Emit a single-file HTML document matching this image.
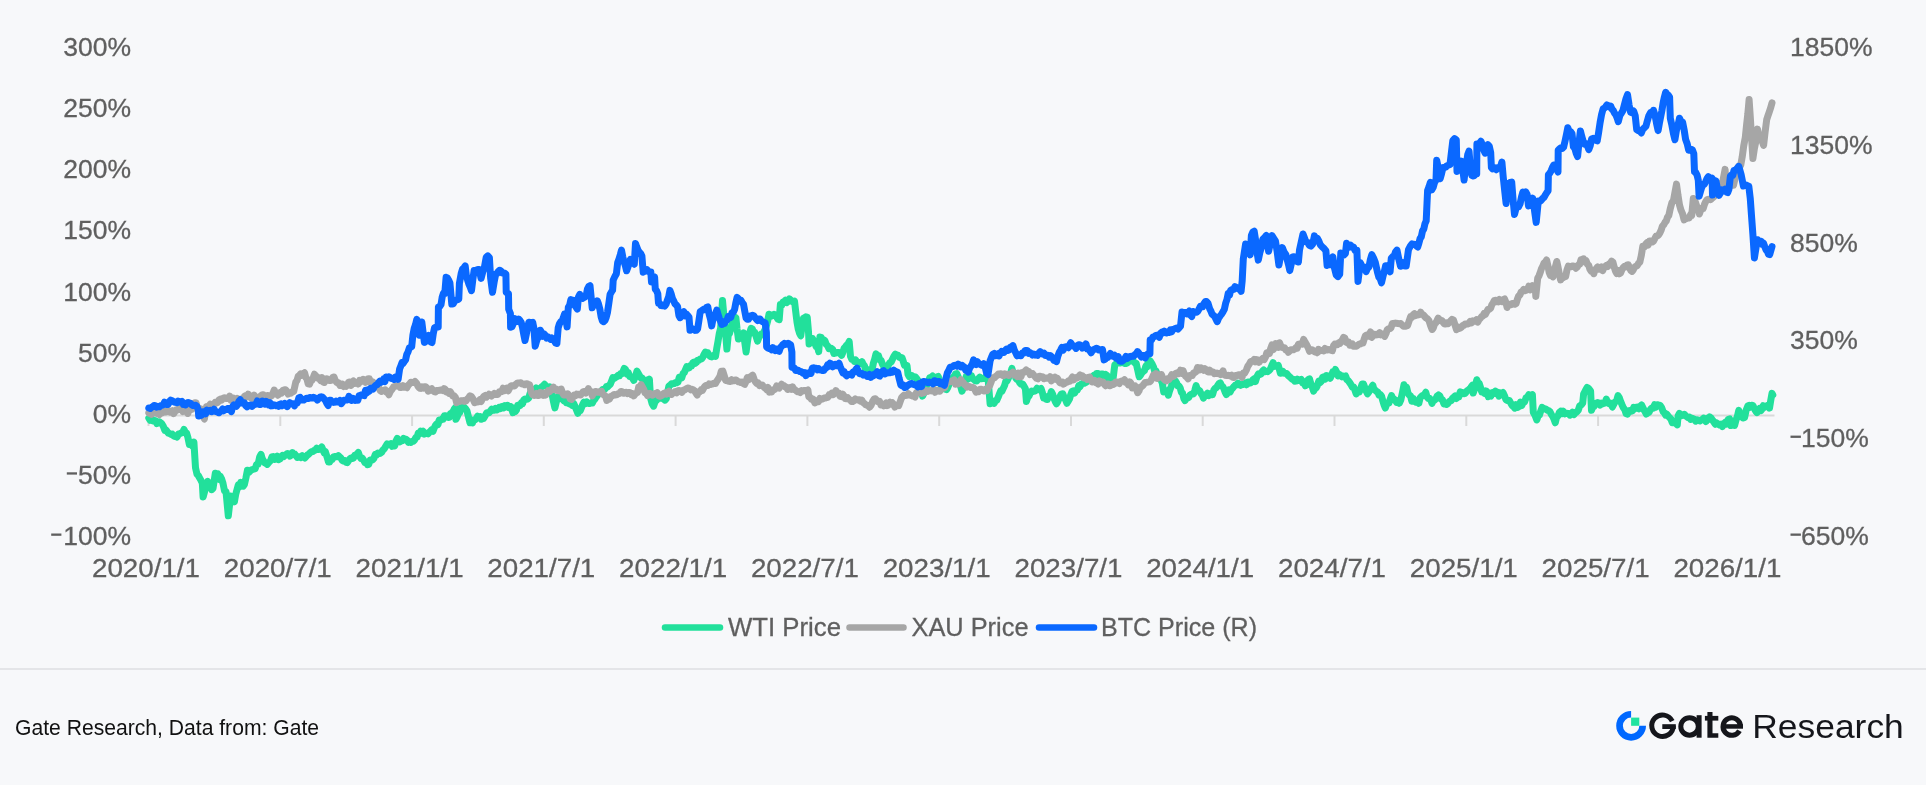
<!DOCTYPE html>
<html><head><meta charset="utf-8"><style>
html,body{margin:0;padding:0;}
body{width:1926px;height:785px;background:#f7f8fa;position:relative;overflow:hidden;}
</style></head><body>
<svg width="1926" height="785" viewBox="0 0 1926 785" style="position:absolute;left:0;top:0;will-change:transform"><path d="M148.5,415.5H1774.5M148.5,415.5V426M280.3,415.5V426M412.1,415.5V426M543.8,415.5V426M675.6,415.5V426M807.4,415.5V426M939.2,415.5V426M1071.0,415.5V426M1202.7,415.5V426M1334.5,415.5V426M1466.3,415.5V426M1598.1,415.5V426M1729.9,415.5V426" stroke="#d9d9d9" stroke-width="2" fill="none"/><g font-family="Liberation Sans, sans-serif" font-size="26.5" fill="#5f5f5f" stroke="#5f5f5f" stroke-width="0.3"><text x="131" y="55.9" text-anchor="end">300%</text><text x="131" y="117.1" text-anchor="end">250%</text><text x="131" y="178.2" text-anchor="end">200%</text><text x="131" y="239.4" text-anchor="end">150%</text><text x="131" y="300.5" text-anchor="end">100%</text><text x="131" y="361.7" text-anchor="end">50%</text><text x="131" y="422.8" text-anchor="end">0%</text><text x="131" y="484.0" text-anchor="end">50%</text><text x="131" y="545.1" text-anchor="end">100%</text><text x="1790" y="55.9">1850%</text><text x="1790" y="153.7">1350%</text><text x="1790" y="251.6">850%</text><text x="1790" y="349.4">350%</text><text x="1801" y="447.3">150%</text><text x="1801" y="545.1">650%</text><text x="146.0" y="577.4" text-anchor="middle" textLength="108" lengthAdjust="spacingAndGlyphs">2020/1/1</text><text x="277.8" y="577.4" text-anchor="middle" textLength="108" lengthAdjust="spacingAndGlyphs">2020/7/1</text><text x="409.6" y="577.4" text-anchor="middle" textLength="108" lengthAdjust="spacingAndGlyphs">2021/1/1</text><text x="541.3" y="577.4" text-anchor="middle" textLength="108" lengthAdjust="spacingAndGlyphs">2021/7/1</text><text x="673.1" y="577.4" text-anchor="middle" textLength="108" lengthAdjust="spacingAndGlyphs">2022/1/1</text><text x="804.9" y="577.4" text-anchor="middle" textLength="108" lengthAdjust="spacingAndGlyphs">2022/7/1</text><text x="936.7" y="577.4" text-anchor="middle" textLength="108" lengthAdjust="spacingAndGlyphs">2023/1/1</text><text x="1068.5" y="577.4" text-anchor="middle" textLength="108" lengthAdjust="spacingAndGlyphs">2023/7/1</text><text x="1200.2" y="577.4" text-anchor="middle" textLength="108" lengthAdjust="spacingAndGlyphs">2024/1/1</text><text x="1332.0" y="577.4" text-anchor="middle" textLength="108" lengthAdjust="spacingAndGlyphs">2024/7/1</text><text x="1463.8" y="577.4" text-anchor="middle" textLength="108" lengthAdjust="spacingAndGlyphs">2025/1/1</text><text x="1595.6" y="577.4" text-anchor="middle" textLength="108" lengthAdjust="spacingAndGlyphs">2025/7/1</text><text x="1727.4" y="577.4" text-anchor="middle" textLength="108" lengthAdjust="spacingAndGlyphs">2026/1/1</text></g><rect x="66.8" y="472.3" width="10.2" height="2.3" fill="#5f5f5f"/><rect x="51.2" y="533.5" width="10.2" height="2.3" fill="#5f5f5f"/><rect x="1790.5" y="435.6" width="10.4" height="2.3" fill="#5f5f5f"/><rect x="1790.5" y="533.5" width="10.4" height="2.3" fill="#5f5f5f"/><path d="M148.8,418.1L150.2,420.3L151.6,418.6L153.0,420.9L154.3,420.5L155.7,420.7L156.9,423.6L158.1,422.4L159.4,421.8L160.6,422.7L161.8,423.7L163.3,426.2L164.9,430.4L166.1,430.1L167.3,431.7L168.5,433.2L169.8,433.6L171.0,434.4L172.2,434.1L173.4,435.7L174.7,436.4L175.9,436.4L177.1,437.0L178.5,433.9L179.9,433.6L181.2,433.0L182.6,432.6L184.0,429.5L185.3,432.2L186.5,432.9L187.8,437.0L189.3,444.4L190.9,443.7L192.4,446.1L193.9,442.0L195.5,467.8L197.0,474.3L198.3,475.5L199.7,478.1L201.0,480.4L202.3,483.1L203.1,497.0L204.6,491.5L206.2,486.5L207.7,481.3L209.0,484.3L210.4,485.6L211.7,489.7L213.0,488.5L215.3,473.2L216.6,474.3L217.8,473.8L219.0,479.4L220.2,476.3L221.5,478.6L223.0,483.4L224.5,490.9L226.0,491.7L228.3,515.8L230.6,496.0L231.9,497.8L233.2,498.8L234.4,501.8L235.7,494.4L237.0,489.6L238.3,484.8L239.5,487.0L240.7,482.3L241.9,485.7L243.2,486.2L244.4,484.5L245.9,478.0L247.4,470.3L248.7,472.5L250.0,471.2L251.3,470.0L252.5,469.5L253.8,469.1L255.1,468.9L256.6,464.4L258.1,464.3L259.7,456.8L261.0,454.3L262.2,458.5L263.5,460.7L264.8,462.8L266.0,463.4L267.3,464.4L268.9,462.4L270.4,460.9L271.9,456.9L273.2,456.5L274.6,459.3L275.9,458.5L277.3,456.2L278.6,459.7L279.9,459.0L281.3,456.9L282.6,455.4L283.8,456.5L285.1,455.2L286.3,454.3L287.5,453.5L288.7,454.0L290.0,456.1L291.2,454.6L292.4,452.6L293.6,454.4L294.8,454.1L296.1,455.8L297.3,457.4L298.5,456.7L299.7,457.0L301.0,457.7L302.3,455.7L303.6,457.0L304.9,458.0L306.2,456.5L307.5,455.0L308.8,454.1L310.1,452.8L311.4,451.8L312.8,451.6L314.1,450.5L315.4,450.2L316.7,448.2L318.0,449.6L319.3,449.3L320.5,448.4L321.8,447.0L323.0,449.9L324.2,452.8L325.4,451.8L327.0,456.9L328.5,462.1L329.7,462.1L330.9,459.0L332.2,459.4L333.4,456.9L334.6,456.6L335.9,456.6L337.2,456.8L338.4,455.7L339.7,456.8L341.0,458.2L342.3,460.4L343.6,461.1L344.8,460.6L346.1,462.3L347.3,462.6L348.6,460.6L349.8,459.0L351.0,458.0L352.2,458.6L353.5,458.0L354.7,455.3L355.9,455.5L357.1,453.9L358.3,452.5L359.7,456.5L361.0,458.4L362.3,458.1L363.6,460.1L364.9,462.5L366.2,462.8L367.5,464.7L368.8,464.3L370.1,460.0L371.3,460.2L372.6,459.8L373.9,458.4L375.2,454.5L376.5,455.0L377.8,453.0L379.1,453.6L380.4,453.3L381.7,452.1L383.0,449.9L384.3,448.8L385.9,446.0L387.1,443.9L388.4,444.8L389.7,444.8L391.0,443.6L392.2,446.4L393.5,444.1L394.8,445.7L396.1,440.7L397.3,438.3L398.6,441.5L399.9,441.9L401.2,440.5L402.4,440.7L403.6,438.4L404.8,439.4L406.1,439.3L407.3,440.4L408.5,442.4L409.7,442.1L410.9,442.5L412.2,441.3L413.4,441.3L414.6,439.9L415.8,437.5L417.1,437.2L418.3,433.0L419.5,433.7L420.7,431.1L422.0,433.0L423.2,431.3L424.4,434.0L425.6,433.1L426.9,433.2L428.1,433.8L429.3,432.3L430.5,431.3L431.7,429.8L433.0,431.3L434.2,428.0L435.4,425.5L436.6,424.0L437.9,424.7L439.2,420.0L440.5,420.4L441.8,419.1L443.1,419.3L444.4,415.7L445.7,415.8L447.0,416.8L448.2,417.5L449.4,417.3L450.6,413.4L451.8,412.7L453.0,411.7L454.2,409.1L455.4,407.5L455.9,419.3L457.2,416.8L458.5,413.7L459.8,412.5L461.0,407.5L462.3,405.9L463.9,407.1L465.4,408.5L466.9,410.7L468.4,416.6L470.0,422.8L471.2,421.8L472.5,422.9L473.8,419.8L475.1,419.7L476.3,418.5L477.6,416.2L478.8,417.8L480.1,416.6L481.3,419.2L482.5,418.0L483.7,418.4L485.3,415.5L486.8,412.7L488.0,412.8L489.2,412.7L490.5,411.0L491.7,409.2L492.9,410.4L494.1,410.2L495.4,408.4L496.6,410.0L497.8,409.4L499.0,407.5L500.2,408.6L501.5,406.6L502.7,406.3L503.9,407.8L505.1,405.7L506.4,406.9L507.6,405.5L508.8,407.6L510.0,406.3L511.3,406.9L512.8,412.7L514.0,411.7L515.2,411.8L516.5,410.0L517.7,405.2L518.9,405.9L520.1,405.6L521.3,403.0L522.6,403.6L523.8,399.8L525.0,399.0L526.2,399.4L527.5,399.1L528.7,398.1L529.9,393.9L531.1,390.7L532.4,392.0L533.7,389.5L535.0,389.8L536.2,387.9L537.6,389.7L539.0,389.4L540.4,388.4L541.8,386.8L543.2,385.7L544.5,384.3L545.8,385.7L547.0,386.4L548.3,387.3L549.5,386.9L550.8,390.1L552.2,394.8L553.5,401.8L554.9,407.9L556.3,402.0L557.7,396.9L559.1,396.9L560.3,397.1L561.5,398.5L562.7,399.4L563.9,401.0L565.1,400.6L566.3,402.7L567.6,402.9L568.8,403.7L570.0,401.2L571.2,404.7L572.4,405.5L573.6,403.3L575.0,406.2L576.4,409.7L577.8,413.3L579.0,411.0L580.3,410.8L581.5,407.8L582.8,404.2L584.0,402.1L585.4,403.5L586.8,402.0L588.2,403.2L589.5,403.6L590.9,403.0L592.3,403.1L593.6,400.5L594.9,399.1L596.2,397.0L597.5,395.5L598.8,393.0L600.1,392.7L601.4,391.1L602.7,389.4L603.9,389.6L605.2,388.9L606.4,386.6L607.7,386.9L608.9,385.4L610.3,384.3L611.6,380.9L612.9,377.6L614.3,378.3L615.6,377.4L616.9,376.7L618.3,375.2L619.5,375.7L620.7,373.5L621.9,373.7L623.1,371.4L624.3,368.4L625.5,369.4L626.9,374.1L628.3,372.6L629.7,376.5L631.1,376.8L632.5,378.2L633.8,380.3L635.4,376.5L637.0,371.0L638.3,373.5L639.6,375.8L640.9,378.1L642.1,377.9L643.4,380.8L644.6,382.6L645.8,384.2L647.0,380.2L648.2,381.2L649.4,379.2L650.5,397.8L652.0,403.4L653.6,406.2L655.0,401.9L656.3,400.6L657.7,398.7L658.9,397.7L660.1,398.2L661.4,395.7L662.6,397.4L663.8,399.3L665.0,400.2L666.3,398.7L667.6,392.2L668.9,386.1L670.2,385.2L671.5,383.7L672.8,383.7L674.1,383.5L675.4,382.6L676.7,382.8L678.0,382.0L679.3,377.2L680.6,376.9L681.8,377.7L683.1,373.5L684.3,372.5L685.6,369.5L686.8,366.6L688.0,368.3L689.2,367.8L690.4,365.6L691.6,365.9L692.8,362.7L694.0,362.0L695.2,363.4L696.4,362.4L697.6,360.3L698.9,360.2L700.2,359.0L701.5,358.9L702.7,357.5L704.0,354.4L705.3,352.1L706.6,352.6L707.8,352.8L709.1,355.3L710.4,356.6L711.7,356.9L712.9,356.0L714.2,355.0L715.5,356.4L716.8,348.1L718.0,341.4L719.3,333.4L720.6,328.4L722.5,300.5L723.8,314.8L725.4,330.6L726.9,349.1L728.2,335.3L729.5,333.5L730.8,328.8L732.0,324.7L733.3,321.7L734.6,318.8L735.9,317.8L737.1,329.1L738.4,339.0L739.7,338.1L741.0,337.1L742.2,335.0L743.5,332.8L744.8,342.6L746.1,352.1L747.3,342.7L748.6,334.4L749.9,332.1L751.1,328.3L752.4,329.0L753.7,333.2L755.0,332.7L756.2,336.7L757.5,341.1L758.8,337.8L760.1,335.6L761.3,333.9L762.6,333.9L763.9,331.9L765.2,329.3L766.4,325.7L767.7,320.8L769.0,314.2L770.3,314.7L771.5,316.1L772.8,315.3L774.1,314.3L775.4,315.0L776.6,317.2L777.9,319.2L779.2,319.6L780.4,304.4L781.7,305.4L783.0,301.9L784.3,301.7L785.5,300.1L786.8,302.6L788.1,301.6L789.4,298.9L790.6,300.0L791.9,301.1L793.2,302.3L794.5,301.1L795.7,311.5L797.0,322.1L798.3,329.3L799.6,333.4L800.8,335.8L802.1,325.5L803.4,318.3L804.6,317.8L805.9,316.8L807.2,317.1L808.5,331.9L809.1,344.1L810.7,341.1L812.3,338.3L813.6,340.5L814.8,342.8L816.1,346.6L817.4,346.2L818.7,351.7L819.9,337.1L821.2,337.4L822.5,339.7L823.8,339.9L825.0,340.8L826.3,344.5L827.6,345.7L828.9,348.7L830.1,348.3L831.4,348.3L832.7,349.4L833.9,353.5L835.2,353.2L836.5,352.7L837.8,352.4L839.0,352.4L840.3,353.8L841.6,355.4L842.9,352.3L844.1,348.3L845.4,347.0L846.7,345.1L848.0,344.0L849.2,341.5L850.5,356.4L851.8,359.3L853.1,359.7L854.3,361.2L855.6,359.9L856.9,362.4L858.2,362.8L859.4,362.7L860.7,363.4L862.0,361.7L863.2,364.3L864.5,365.8L865.8,370.9L867.1,370.2L868.3,369.9L869.6,372.0L870.9,370.7L872.2,369.1L873.4,363.0L874.7,359.1L876.0,353.9L877.3,357.4L878.5,355.7L879.8,359.9L881.1,360.5L882.4,364.2L883.6,365.9L884.9,370.2L886.2,368.4L887.5,366.8L888.7,364.5L890.0,362.6L891.3,361.9L892.6,359.0L894.0,356.1L895.3,354.1L896.6,355.0L898.0,355.2L899.4,357.5L900.8,357.5L902.0,357.7L903.3,361.5L904.5,365.4L905.8,365.2L907.0,365.4L908.0,374.3L909.2,376.5L910.5,375.5L911.7,375.5L912.9,377.0L914.1,376.8L915.3,377.0L916.6,378.4L917.8,380.2L919.0,383.4L920.3,386.0L921.5,389.0L922.6,396.1L923.8,393.5L925.0,390.6L926.2,387.0L927.4,384.2L928.6,381.6L929.8,377.6L931.2,377.3L932.6,376.0L934.0,377.3L935.4,377.3L936.8,377.2L938.2,376.5L939.5,380.2L940.9,385.4L942.3,385.8L943.7,386.8L945.1,389.0L946.5,389.7L947.7,387.7L949.0,384.4L950.2,381.6L951.4,380.2L952.7,378.0L954.1,376.3L955.5,373.9L956.8,373.6L958.1,376.6L959.4,382.9L960.7,386.6L962.0,391.2L963.4,387.8L964.8,383.3L966.2,376.5L967.5,377.4L968.8,378.8L970.1,377.6L971.4,375.7L972.7,378.4L974.0,379.6L975.3,380.9L976.6,381.1L978.1,379.1L979.7,377.1L981.1,378.8L982.5,378.4L983.8,378.4L985.2,377.3L986.6,379.0L988.0,378.0L990.1,403.7L991.5,400.7L992.8,402.9L994.2,403.4L995.5,400.6L996.8,400.2L998.1,397.4L999.4,394.0L1000.7,390.8L1002.0,391.2L1003.3,388.2L1004.6,385.5L1005.8,381.3L1007.0,381.0L1008.2,378.5L1009.5,375.1L1010.7,372.6L1011.9,368.4L1013.2,372.9L1014.5,373.8L1015.8,378.1L1017.1,379.5L1018.5,380.3L1019.8,382.8L1021.2,384.3L1022.6,384.0L1024.0,386.2L1025.4,388.7L1026.4,401.5L1027.7,397.5L1029.0,396.0L1030.3,393.1L1031.6,391.0L1032.9,391.5L1034.3,391.2L1035.6,390.6L1037.0,388.3L1038.3,389.7L1039.6,389.3L1041.0,388.5L1042.3,392.3L1043.6,397.9L1044.8,397.7L1046.1,399.3L1047.4,399.5L1048.7,396.0L1050.0,396.0L1051.3,391.5L1052.6,394.0L1053.9,398.3L1055.2,401.5L1056.5,403.8L1057.8,401.6L1059.0,398.7L1060.3,395.9L1061.5,393.9L1062.8,393.8L1064.1,397.2L1065.5,399.8L1066.9,403.3L1068.2,401.1L1069.5,399.0L1070.8,394.6L1072.1,391.3L1073.4,390.9L1074.7,393.1L1076.1,390.2L1077.4,390.0L1078.7,385.7L1080.0,386.7L1081.4,384.1L1082.8,383.3L1084.2,383.3L1085.4,382.7L1086.6,382.0L1087.8,381.1L1089.1,379.8L1090.3,377.5L1091.5,379.8L1092.7,376.8L1094.0,375.2L1095.2,375.5L1096.4,373.4L1097.7,373.5L1099.0,373.8L1100.3,376.4L1101.6,374.1L1103.0,374.0L1104.3,376.0L1105.6,374.4L1106.9,375.5L1108.1,378.4L1109.4,377.6L1110.7,378.3L1112.0,379.4L1113.2,377.5L1114.8,364.9L1116.1,363.7L1117.4,362.5L1118.8,362.8L1120.1,363.0L1121.4,362.4L1122.8,361.5L1124.1,363.1L1125.5,363.6L1126.8,363.2L1128.1,362.2L1129.5,360.6L1130.8,360.4L1132.1,359.9L1133.5,361.5L1134.8,362.9L1136.2,363.4L1137.7,370.0L1139.2,376.8L1140.5,375.1L1141.8,373.0L1143.2,371.4L1144.5,370.6L1145.8,366.1L1147.1,366.7L1148.4,360.1L1149.7,360.5L1150.9,362.0L1152.2,364.1L1153.5,366.9L1154.8,371.8L1156.0,370.9L1157.6,375.0L1159.1,376.2L1160.6,378.9L1162.2,382.8L1163.7,391.9L1165.2,391.2L1166.7,390.9L1168.3,395.2L1169.8,390.1L1171.3,386.3L1172.9,381.9L1174.1,381.3L1175.3,380.8L1176.5,382.6L1177.8,385.9L1179.0,385.9L1180.2,388.0L1181.4,392.3L1182.6,393.3L1183.9,398.6L1185.1,400.6L1186.3,398.0L1187.5,398.2L1188.8,397.3L1190.0,395.1L1191.2,394.2L1192.4,394.1L1193.7,393.8L1194.9,390.0L1196.1,385.6L1197.3,389.3L1198.5,389.9L1199.8,391.0L1201.0,393.7L1202.2,394.8L1203.4,398.2L1204.8,395.2L1206.1,395.0L1207.4,393.2L1208.7,395.7L1210.0,393.9L1211.3,394.6L1212.6,394.7L1213.9,389.9L1215.2,388.3L1216.4,387.8L1217.7,385.6L1219.0,383.5L1220.3,382.8L1221.5,385.7L1222.7,386.4L1223.9,388.8L1225.2,392.3L1226.4,394.5L1227.7,393.0L1229.0,390.0L1230.3,391.8L1231.6,389.1L1232.9,387.9L1234.2,386.2L1235.6,384.9L1236.8,384.8L1238.0,383.2L1239.3,384.1L1240.5,385.3L1241.8,384.4L1243.0,384.4L1244.2,383.9L1245.5,382.9L1246.7,384.7L1248.0,381.9L1249.2,382.1L1250.5,382.9L1251.7,382.0L1252.9,379.7L1254.2,378.7L1255.4,381.6L1257.0,376.4L1258.5,373.8L1259.8,374.5L1261.1,374.0L1262.4,371.3L1263.7,370.0L1265.0,371.7L1266.3,371.3L1267.7,371.7L1269.0,370.6L1270.4,369.1L1271.8,365.5L1273.1,362.6L1274.4,366.4L1275.7,366.2L1277.0,366.0L1278.3,365.3L1280.4,373.3L1281.6,371.7L1282.9,371.3L1284.1,373.2L1285.4,373.3L1286.6,373.5L1288.2,375.5L1289.7,376.8L1291.0,378.1L1292.3,379.4L1293.5,379.3L1294.8,381.2L1296.1,381.1L1297.3,379.2L1298.6,380.5L1299.9,380.0L1301.2,379.3L1302.5,382.9L1303.9,381.7L1305.3,385.8L1306.7,385.0L1308.1,379.6L1309.5,378.9L1310.8,383.5L1312.2,386.6L1313.6,391.1L1314.9,388.8L1316.2,387.8L1317.5,385.3L1318.8,381.0L1320.1,382.5L1321.4,381.2L1322.7,377.2L1324.0,376.7L1325.2,379.1L1326.5,375.6L1327.7,376.1L1329.0,376.5L1330.2,378.2L1331.5,375.5L1332.8,371.8L1334.1,372.6L1335.4,369.5L1336.7,372.0L1338.0,375.9L1339.3,374.4L1340.6,375.3L1341.9,376.8L1343.1,376.0L1344.4,376.5L1345.6,376.0L1346.8,379.5L1348.2,380.7L1349.6,382.5L1351.0,384.7L1352.3,387.1L1353.6,386.9L1354.9,390.1L1356.2,394.0L1357.7,391.6L1359.3,392.0L1360.7,388.3L1362.1,384.0L1363.5,383.9L1364.8,387.4L1366.2,391.1L1367.6,393.8L1368.9,392.0L1370.2,389.4L1371.5,387.2L1372.8,385.3L1374.0,389.5L1375.3,390.1L1376.5,391.5L1377.8,392.2L1379.0,395.0L1380.3,394.6L1381.5,396.0L1382.8,400.7L1384.0,404.7L1385.3,408.1L1386.5,404.7L1387.8,403.6L1389.0,402.9L1390.2,399.1L1391.5,395.6L1392.7,398.8L1394.0,399.0L1395.2,400.1L1396.5,402.4L1397.7,400.9L1399.3,403.2L1400.8,400.0L1402.4,392.7L1404.0,384.8L1405.3,387.2L1406.6,387.3L1407.9,392.9L1409.1,394.8L1410.5,396.0L1411.9,401.3L1413.3,398.5L1414.7,401.3L1416.1,402.3L1417.5,401.9L1418.8,403.3L1420.2,397.6L1421.6,396.2L1423.0,395.3L1424.4,394.6L1425.8,392.3L1427.0,396.9L1428.3,398.4L1429.5,398.3L1430.7,399.7L1432.0,403.4L1433.3,400.4L1434.6,400.2L1435.9,398.8L1437.2,395.9L1438.5,394.9L1439.9,396.0L1441.2,399.2L1442.5,399.9L1443.9,403.9L1445.2,402.9L1446.5,404.4L1447.7,403.7L1449.0,401.9L1450.2,400.8L1451.4,400.5L1452.6,398.1L1453.8,397.1L1455.1,396.0L1456.4,398.5L1457.6,396.8L1458.9,397.0L1460.2,391.9L1461.5,393.1L1462.7,392.6L1464.0,393.7L1465.3,393.3L1467.1,390.7L1468.8,389.7L1470.6,387.8L1472.4,385.2L1473.2,393.1L1475.0,388.0L1476.8,379.7L1478.0,382.8L1479.2,383.4L1480.5,387.4L1481.7,391.9L1482.9,391.4L1484.3,393.2L1485.6,390.8L1486.9,391.6L1488.2,396.6L1489.6,395.3L1490.9,396.0L1492.4,392.4L1493.8,392.6L1495.3,391.1L1496.5,393.7L1497.8,392.4L1499.0,396.1L1500.2,392.8L1501.5,393.6L1503.0,392.5L1504.4,395.4L1505.9,399.6L1507.7,400.6L1509.4,400.5L1510.8,403.3L1512.1,405.5L1513.4,406.4L1514.7,408.1L1516.1,404.7L1517.5,407.4L1519.0,406.5L1520.4,402.2L1521.8,405.5L1523.2,402.6L1524.6,402.0L1526.0,397.8L1527.4,397.3L1528.8,394.7L1530.6,396.4L1532.4,394.7L1533.3,412.3L1535.0,415.3L1536.8,420.0L1538.1,416.0L1539.4,415.0L1540.8,410.9L1542.1,407.4L1543.4,408.2L1544.7,408.7L1546.1,409.3L1547.4,410.3L1548.7,410.6L1550.0,411.7L1551.4,414.6L1552.7,416.2L1554.0,419.1L1555.3,422.8L1556.6,417.2L1558.0,415.9L1559.3,412.4L1560.6,411.3L1561.9,413.6L1563.3,411.2L1564.6,413.8L1565.9,413.0L1567.2,413.4L1568.6,413.4L1569.9,415.1L1571.2,414.1L1572.5,412.1L1573.9,414.7L1575.3,412.8L1576.8,411.9L1578.3,410.2L1579.7,405.9L1581.2,404.9L1582.7,403.1L1583.6,394.1L1585.3,390.7L1587.1,387.5L1588.9,388.7L1590.6,391.1L1591.5,410.3L1592.7,407.1L1594.0,406.6L1595.2,404.5L1596.5,403.0L1597.7,402.6L1598.9,403.3L1600.2,405.0L1601.4,403.2L1602.6,403.8L1603.9,403.2L1605.1,403.0L1606.3,399.1L1607.5,402.2L1608.7,403.5L1609.9,402.8L1611.1,404.4L1612.4,407.0L1613.6,404.7L1615.0,402.0L1616.5,401.1L1618.0,395.6L1619.3,397.6L1620.6,401.3L1622.0,404.7L1623.3,407.6L1624.7,409.5L1626.1,413.7L1627.5,414.1L1628.7,410.7L1630.0,410.6L1631.2,411.3L1632.5,410.8L1633.7,407.3L1635.0,408.7L1636.3,407.2L1637.6,407.1L1638.9,408.7L1640.3,406.7L1641.6,405.0L1643.3,408.6L1644.9,411.4L1646.3,414.0L1647.7,412.9L1649.1,412.1L1650.5,409.3L1651.8,408.0L1653.2,408.2L1654.6,404.7L1655.9,407.2L1657.2,404.7L1658.5,405.1L1659.9,405.2L1661.5,407.3L1663.2,411.7L1664.4,412.9L1665.7,415.2L1666.9,414.3L1668.2,416.1L1669.6,417.6L1670.9,419.0L1672.3,422.7L1673.6,421.7L1674.8,422.4L1676.1,423.6L1677.3,424.9L1678.1,415.8L1679.4,413.3L1680.6,416.0L1681.9,415.5L1683.1,414.7L1684.4,414.2L1685.6,416.0L1686.9,416.7L1688.1,417.6L1689.4,417.1L1690.6,419.4L1691.8,418.1L1693.1,418.8L1694.4,419.3L1695.7,421.1L1697.1,419.8L1698.4,420.3L1699.7,421.0L1701.0,420.1L1702.2,419.5L1703.5,418.3L1704.7,420.1L1706.0,421.5L1707.2,418.4L1708.5,419.4L1709.7,417.0L1711.1,418.1L1712.5,420.0L1713.9,422.2L1715.2,424.2L1716.6,422.8L1718.0,424.0L1719.5,424.9L1720.9,424.2L1722.4,426.5L1723.8,423.7L1725.3,422.3L1726.7,424.1L1728.2,419.5L1729.6,418.9L1730.9,425.5L1732.1,424.0L1733.4,424.9L1734.6,425.4L1736.0,420.0L1737.4,416.2L1738.8,410.4L1740.2,414.4L1741.7,416.5L1743.1,418.0L1744.6,417.4L1746.2,410.0L1747.9,405.8L1749.2,405.4L1750.4,407.2L1751.6,405.2L1752.9,405.4L1754.3,408.5L1755.7,411.1L1757.0,412.6L1758.3,409.6L1759.5,408.4L1760.8,410.7L1762.0,409.3L1763.3,405.7L1764.5,407.2L1765.8,405.9L1767.0,405.9L1768.3,405.1L1769.5,408.1L1770.7,400.6L1772.0,393.4L1772.8,394.9" fill="none" stroke="#22e09b" stroke-width="7" stroke-linejoin="round" stroke-linecap="round"/><path d="M148.8,413.0L150.2,412.3L151.5,414.3L152.8,411.0L154.1,412.4L155.5,410.1L156.8,413.4L158.1,413.3L159.4,414.6L160.8,412.5L162.1,412.9L163.4,412.0L164.7,411.1L166.0,411.8L167.3,410.2L168.6,410.7L169.9,412.1L171.2,411.7L172.5,410.7L173.7,413.5L175.0,411.5L176.3,409.8L177.6,409.9L178.9,408.9L180.2,408.5L181.5,408.2L182.8,411.6L184.0,410.3L185.3,410.3L186.5,411.2L187.8,413.4L189.2,409.8L190.5,407.1L191.9,409.3L193.3,404.0L194.7,402.7L196.1,402.7L197.6,408.9L199.2,409.3L200.5,408.8L201.8,414.3L203.1,416.4L204.4,419.0L206.5,406.6L207.7,406.2L209.0,405.7L210.2,404.3L211.4,405.7L212.7,406.2L213.9,404.1L215.2,402.4L216.4,403.0L217.7,402.5L218.9,400.0L220.3,399.1L221.7,400.0L223.1,398.2L224.4,397.7L225.7,398.4L227.0,398.4L228.3,398.5L229.6,396.1L230.9,400.1L232.2,399.6L233.5,398.1L234.7,399.7L235.9,399.2L237.1,398.4L238.4,399.3L239.6,401.0L240.8,399.2L242.0,399.8L243.3,400.5L244.5,396.4L245.7,395.5L247.0,396.7L248.2,394.1L249.4,395.3L250.7,397.8L251.9,398.5L253.2,398.3L254.4,395.2L255.7,399.7L256.9,399.1L258.2,399.3L259.4,399.1L260.6,395.9L261.9,394.9L263.1,394.7L264.3,398.5L265.6,396.0L266.8,395.8L268.0,395.5L269.2,396.3L270.5,396.3L271.7,395.8L272.9,393.4L274.2,390.0L275.4,392.8L276.7,393.8L277.9,395.2L279.1,393.7L280.4,392.3L281.6,393.0L282.9,390.4L284.1,390.0L285.4,389.7L286.8,391.2L288.1,394.0L289.5,393.1L290.9,393.2L292.3,391.9L293.7,391.4L295.8,382.1L297.0,380.4L298.3,376.1L299.5,375.3L300.7,373.9L302.0,375.3L303.3,374.0L304.6,372.8L305.8,377.4L307.0,379.1L308.2,383.9L309.5,384.2L310.7,381.0L312.0,380.4L313.2,377.8L314.5,374.2L315.7,376.5L316.9,376.6L318.2,378.3L319.4,378.8L320.7,380.5L321.9,377.5L323.1,381.9L324.3,382.4L325.5,380.3L326.7,378.8L328.0,379.4L329.2,380.5L330.4,380.4L331.6,380.3L332.8,377.2L334.0,377.1L335.2,380.2L336.8,382.5L338.4,382.7L340.0,385.4L341.2,384.2L342.4,384.0L343.7,386.5L344.9,385.3L346.1,386.3L347.3,385.1L348.6,382.2L349.8,382.0L351.0,385.5L352.2,382.4L353.5,381.0L354.7,383.4L355.9,382.7L357.1,382.3L358.3,384.0L359.6,380.3L360.8,381.8L362.0,380.3L363.2,379.3L364.5,379.6L365.7,382.3L366.9,381.4L368.1,378.8L369.4,378.8L370.6,382.2L371.8,383.7L373.0,382.0L374.3,386.7L375.5,385.2L376.7,384.2L377.9,385.8L379.1,388.4L380.4,390.8L381.6,391.5L382.8,390.4L384.0,390.4L385.3,389.8L386.5,392.1L387.7,392.7L388.9,394.7L390.5,391.0L392.0,389.4L393.5,387.0L394.9,386.3L396.2,385.9L397.5,385.9L398.9,385.5L400.2,387.6L401.5,387.6L402.9,385.6L404.2,387.2L405.6,386.8L406.9,387.7L408.2,385.3L409.6,383.9L410.9,382.3L412.2,382.4L413.6,382.4L414.9,381.4L416.5,383.1L418.0,386.3L419.5,388.2L420.7,388.4L422.0,386.9L423.2,388.0L424.4,386.8L425.6,386.7L426.9,388.0L428.1,391.1L429.3,390.7L430.5,389.4L431.7,388.7L433.0,390.3L434.2,391.6L435.4,392.0L436.6,390.5L437.9,390.6L439.1,390.2L440.3,390.3L441.5,389.8L442.8,390.6L444.0,388.6L445.2,389.3L446.4,391.9L447.6,391.3L448.9,393.2L450.1,391.6L451.4,393.5L452.7,396.0L454.0,395.8L455.3,397.1L456.6,402.6L458.0,401.2L459.3,401.5L460.6,400.7L461.9,400.9L463.3,400.5L464.6,401.4L466.0,401.0L467.3,398.9L468.6,397.9L470.0,395.8L471.5,396.6L473.0,398.9L474.6,402.7L475.9,401.9L477.2,402.0L478.6,401.8L479.9,399.7L481.2,401.5L482.6,398.1L483.9,396.3L485.3,395.5L486.5,397.1L487.8,395.8L489.1,394.2L490.4,395.0L491.6,396.0L492.9,394.4L494.2,393.4L495.5,394.6L496.7,394.6L498.0,394.3L499.3,391.7L500.6,391.9L501.8,391.6L503.1,388.2L504.4,390.6L505.6,389.6L506.9,388.2L508.2,390.8L509.5,388.4L510.7,386.1L512.0,385.7L513.3,386.0L514.6,386.0L515.8,384.4L517.1,383.2L518.3,383.0L519.6,382.9L520.8,382.7L522.1,384.0L523.3,384.0L524.6,384.8L525.8,384.0L527.1,383.7L528.4,384.6L529.6,384.8L531.1,391.8L532.7,394.8L533.9,395.4L535.2,395.3L536.5,393.5L537.8,395.5L539.1,395.5L540.4,392.4L541.7,394.4L543.0,395.2L544.3,392.8L545.6,395.0L546.9,393.4L548.2,390.7L549.5,391.7L550.8,390.5L552.1,388.8L553.4,387.1L554.7,389.6L556.0,389.1L557.3,390.6L558.6,390.8L559.9,389.5L561.2,389.0L562.5,392.9L563.7,394.9L565.0,395.0L566.3,394.2L567.6,393.8L568.9,395.1L570.2,399.0L571.5,399.4L572.8,397.5L574.1,395.2L575.4,395.7L576.7,394.1L578.0,394.3L579.3,394.8L580.6,395.0L581.9,393.4L583.2,391.7L584.5,391.5L585.8,393.0L587.1,391.2L588.4,388.7L589.7,391.9L591.0,391.5L592.3,395.8L593.6,392.2L594.9,391.7L596.2,391.4L597.5,392.3L598.8,392.2L600.2,391.5L601.5,391.3L602.8,394.2L604.2,395.2L605.5,396.1L606.8,400.5L608.1,399.5L609.4,399.1L610.7,396.5L611.9,396.3L613.2,395.1L614.5,394.4L615.7,395.0L617.0,394.6L618.3,393.7L619.6,393.5L620.9,391.4L622.2,391.6L623.5,393.3L624.8,392.9L626.1,392.3L627.4,393.6L628.7,392.5L629.9,392.4L631.2,394.5L632.5,393.7L633.8,395.8L635.1,394.1L636.3,393.1L637.5,392.4L638.7,387.0L639.9,387.1L641.1,384.7L642.4,387.0L643.7,389.2L645.0,392.8L646.3,393.4L647.5,395.5L648.8,393.5L650.0,393.5L651.2,393.8L652.4,395.2L653.7,394.5L654.9,393.6L656.1,393.8L657.3,392.6L658.6,395.8L659.8,396.3L661.1,395.7L662.4,395.1L663.7,393.5L665.0,392.9L666.3,394.1L667.6,392.2L668.9,391.3L670.2,393.9L671.5,394.5L672.8,392.9L674.1,392.4L675.4,391.5L676.7,392.8L678.0,390.7L679.3,390.5L680.6,390.9L681.9,392.2L683.2,390.3L684.5,390.1L685.8,389.0L687.1,388.3L688.4,387.9L689.7,388.7L691.0,389.9L692.2,389.3L693.4,389.9L694.7,391.0L695.9,393.1L697.2,395.0L698.5,391.7L699.9,391.9L701.2,389.6L702.5,390.3L703.9,387.7L705.2,386.0L706.5,385.2L707.8,385.5L709.1,383.9L710.4,384.5L711.7,384.2L713.0,383.6L714.3,383.2L715.6,383.5L716.9,381.0L718.4,378.9L719.9,376.4L721.3,371.3L722.8,371.1L724.2,375.5L725.6,380.4L726.8,380.5L728.0,381.0L729.2,381.3L730.4,381.5L731.6,379.8L732.8,380.9L734.0,380.7L735.4,379.9L736.7,380.3L738.0,381.7L739.4,381.9L740.7,382.5L742.0,382.1L743.4,383.5L744.7,384.3L746.0,381.7L747.3,377.5L748.6,379.8L749.9,377.0L751.3,376.2L752.7,375.2L754.1,379.2L755.5,382.0L756.8,383.5L758.1,382.8L759.4,385.6L760.7,385.2L762.1,384.9L763.3,386.3L764.5,387.6L765.7,388.5L766.9,389.8L768.1,387.5L769.3,392.2L770.5,391.7L771.7,392.0L773.0,389.7L774.2,389.7L775.5,388.7L776.7,386.0L777.9,387.1L779.2,388.1L780.4,386.2L781.6,384.2L782.8,385.4L784.0,385.6L785.2,386.9L786.4,387.2L787.7,389.4L788.9,388.9L790.1,387.6L791.3,389.2L792.6,386.8L793.8,389.6L795.1,389.8L796.4,390.9L797.7,391.7L798.9,391.7L800.2,392.5L801.5,390.6L802.8,391.1L804.0,390.6L805.3,390.5L806.6,390.8L807.9,390.0L808.8,396.9L810.0,397.3L811.2,399.1L812.4,398.7L813.6,399.4L814.8,403.0L816.0,402.0L817.2,401.9L818.5,401.7L819.9,398.5L821.2,399.2L822.5,399.0L823.9,398.1L825.2,398.1L826.5,397.4L827.9,397.4L829.2,394.6L830.5,394.7L831.9,393.1L833.2,394.6L834.6,393.3L835.9,390.6L837.3,392.9L838.7,393.0L840.1,396.3L841.5,396.6L842.7,394.1L844.0,395.8L845.2,398.5L846.5,398.7L847.7,397.7L849.0,399.2L850.2,399.9L851.5,401.5L852.7,401.5L854.0,400.7L855.3,398.9L856.6,399.7L857.9,400.0L859.3,399.7L860.5,401.1L861.8,400.1L863.1,402.6L864.4,403.4L865.7,404.7L867.0,405.2L868.2,405.7L869.5,407.2L871.1,405.3L872.6,401.4L874.2,399.0L875.5,398.8L876.9,401.0L878.2,401.9L879.5,401.3L880.9,404.9L882.2,404.2L883.6,405.9L884.8,404.2L886.1,403.0L887.3,405.6L888.6,403.8L889.9,402.2L891.1,404.0L892.4,402.8L893.6,404.1L894.9,407.1L896.2,405.2L897.4,405.4L898.7,405.7L900.1,401.9L901.5,397.9L902.8,396.4L904.2,395.1L905.6,395.4L907.0,395.3L908.4,393.6L909.8,395.1L911.2,395.5L912.5,396.0L913.7,396.1L915.0,397.1L916.3,392.8L917.6,392.8L918.9,392.8L920.2,392.1L921.5,393.4L922.8,393.0L924.0,393.0L925.2,390.6L926.4,390.4L927.6,391.4L928.9,391.0L930.1,390.6L931.3,390.9L932.5,390.6L933.8,389.3L935.0,392.3L936.2,390.1L937.4,390.9L938.6,390.9L939.9,391.3L941.1,389.3L942.3,387.8L943.6,388.2L944.9,387.5L946.2,383.2L947.5,380.7L948.8,381.8L950.1,381.7L951.4,381.1L952.7,381.1L954.1,379.9L955.5,384.2L956.8,383.6L958.2,384.0L959.6,383.0L961.0,379.7L962.2,382.3L963.4,382.8L964.6,384.8L965.8,385.3L967.1,387.1L968.3,386.3L969.6,386.7L970.9,387.6L972.2,387.2L973.5,387.7L974.8,389.5L976.1,392.1L977.4,390.5L978.7,391.5L980.0,389.2L981.4,389.3L982.8,390.3L984.2,391.0L985.6,389.2L987.0,390.6L988.3,387.4L989.6,385.8L990.9,382.7L992.1,379.1L993.4,377.5L994.6,377.7L995.9,376.2L997.1,375.5L998.4,373.9L999.6,373.9L1000.9,373.7L1002.1,375.1L1003.4,375.7L1004.6,373.9L1006.0,374.4L1007.4,374.9L1008.8,375.4L1010.1,373.9L1011.5,373.5L1012.9,372.2L1014.3,375.0L1015.7,373.7L1017.1,376.5L1018.4,373.1L1019.7,376.8L1021.0,376.7L1022.3,372.5L1023.6,372.7L1024.9,371.3L1026.2,370.0L1027.5,371.0L1028.8,371.5L1030.1,374.6L1031.3,374.1L1032.6,373.6L1033.9,375.2L1035.2,376.7L1036.5,378.3L1037.8,378.8L1039.1,376.3L1040.3,376.3L1041.5,377.2L1042.7,376.8L1044.0,378.7L1045.2,378.0L1046.4,378.2L1047.7,378.0L1048.9,378.5L1050.1,376.7L1051.3,380.8L1052.6,379.1L1053.8,378.6L1055.0,377.3L1056.2,379.3L1057.5,378.5L1058.7,380.7L1059.9,382.8L1061.2,383.1L1062.4,382.1L1063.6,384.1L1064.8,383.2L1066.1,382.5L1067.4,382.0L1068.6,380.8L1069.9,381.2L1071.2,378.9L1072.4,377.0L1073.7,379.9L1074.9,378.0L1076.2,377.5L1077.5,377.9L1078.7,376.7L1080.0,375.0L1081.2,376.2L1082.4,375.8L1083.6,377.9L1084.8,377.5L1086.0,377.8L1087.2,379.5L1088.5,377.4L1089.7,377.0L1090.9,379.9L1092.1,381.9L1093.3,381.4L1094.6,380.4L1095.8,382.8L1097.0,383.0L1098.2,384.0L1099.5,381.0L1100.7,382.4L1101.9,382.0L1103.1,382.0L1104.4,384.4L1105.6,385.7L1106.8,384.3L1108.1,384.0L1109.4,385.8L1110.6,385.5L1111.9,384.2L1113.1,384.5L1114.4,383.9L1115.7,381.9L1116.9,382.0L1118.2,382.9L1119.4,383.6L1120.7,381.3L1122.0,381.0L1123.2,381.0L1124.5,379.7L1125.7,382.5L1127.0,382.5L1128.3,384.8L1129.7,381.9L1131.0,383.4L1132.3,388.0L1133.7,386.2L1135.0,385.8L1136.4,389.1L1137.7,392.7L1139.0,390.8L1140.2,387.1L1141.5,386.8L1142.8,385.5L1144.1,383.8L1145.3,382.4L1146.7,382.3L1148.0,382.1L1149.4,381.9L1150.7,380.9L1152.0,378.5L1153.4,375.0L1154.7,376.3L1156.0,373.7L1157.4,378.4L1158.7,376.0L1160.1,374.7L1161.4,374.6L1162.7,377.8L1164.1,379.2L1165.4,380.5L1166.7,380.9L1168.0,378.6L1169.2,379.3L1170.5,377.1L1171.7,374.7L1173.0,376.4L1174.2,376.0L1175.5,373.4L1176.8,372.9L1178.0,373.8L1179.3,373.4L1180.5,370.2L1181.8,373.4L1183.1,370.6L1184.3,373.9L1185.6,376.3L1186.9,377.3L1188.1,378.8L1189.5,375.5L1190.8,375.5L1192.2,375.6L1193.5,373.0L1194.8,372.7L1196.2,371.5L1197.5,367.6L1198.9,367.7L1200.1,369.8L1201.3,367.9L1202.5,369.3L1203.7,370.3L1204.9,368.7L1206.1,369.6L1207.3,371.5L1208.5,372.0L1209.7,370.1L1210.9,372.1L1212.1,372.0L1213.3,371.9L1214.5,373.7L1215.8,373.4L1217.0,373.0L1218.2,373.7L1219.4,373.6L1220.6,374.5L1221.8,373.1L1223.0,370.9L1224.2,374.7L1225.5,375.4L1226.7,375.6L1227.9,375.3L1229.1,375.4L1230.4,375.9L1231.6,375.1L1232.8,377.3L1234.0,377.5L1235.4,375.5L1236.7,375.9L1238.0,375.0L1239.4,374.7L1240.7,374.9L1242.0,377.4L1243.4,373.1L1244.7,373.1L1246.3,370.1L1247.8,366.3L1249.3,364.1L1250.5,361.9L1251.8,361.2L1253.0,361.3L1254.2,359.4L1255.4,361.9L1256.7,359.6L1257.9,361.0L1259.1,362.3L1260.3,360.0L1261.5,359.9L1262.8,358.5L1264.2,359.6L1265.5,357.2L1266.8,352.8L1268.1,354.0L1269.4,353.5L1270.7,348.5L1272.0,344.9L1273.3,349.6L1274.6,347.1L1275.8,343.6L1277.0,346.2L1278.3,347.4L1279.5,342.7L1280.7,345.6L1282.0,347.3L1283.3,347.7L1284.5,347.8L1285.8,350.1L1287.1,350.2L1288.3,352.3L1289.6,351.0L1290.9,349.7L1292.2,349.8L1293.4,349.8L1294.7,349.0L1296.0,347.5L1297.3,348.1L1298.5,344.1L1299.8,343.9L1301.1,343.4L1302.4,344.1L1303.6,339.4L1305.2,342.4L1306.7,344.9L1308.2,347.8L1309.5,351.3L1310.8,350.2L1312.0,349.7L1313.3,350.6L1314.6,351.9L1315.9,351.2L1317.2,352.7L1318.5,349.3L1319.8,350.9L1321.1,350.5L1322.4,350.5L1323.7,350.9L1325.0,348.5L1326.3,349.4L1327.5,350.0L1328.7,349.6L1329.9,349.7L1331.2,350.3L1332.4,350.6L1333.6,345.6L1334.8,344.0L1336.1,344.1L1337.3,344.7L1338.6,342.9L1339.8,343.5L1341.1,341.5L1342.4,339.7L1343.6,337.3L1344.9,338.2L1346.1,342.3L1347.4,342.6L1348.6,342.2L1349.8,345.2L1351.0,344.7L1352.4,343.9L1353.7,346.3L1355.1,346.0L1356.4,346.3L1357.7,345.3L1359.1,344.2L1360.4,343.9L1361.7,342.9L1363.0,343.0L1364.2,339.0L1365.4,335.8L1366.6,335.1L1367.9,336.1L1369.2,334.9L1370.5,332.0L1371.8,337.5L1373.1,334.4L1374.4,334.2L1375.7,334.9L1377.0,334.8L1378.3,334.4L1379.6,332.6L1380.9,334.8L1382.1,333.8L1383.4,334.7L1384.7,336.4L1386.0,333.6L1387.2,329.7L1388.5,328.7L1389.8,328.7L1391.0,327.7L1392.3,323.6L1393.9,323.5L1395.4,323.1L1396.9,323.3L1398.2,323.6L1399.5,323.7L1400.8,323.6L1402.2,325.0L1403.5,326.3L1404.8,326.0L1406.1,326.2L1407.6,325.5L1409.1,321.0L1410.7,316.5L1411.9,317.3L1413.2,314.7L1414.4,313.7L1415.6,315.5L1416.9,314.6L1418.1,314.9L1419.4,314.6L1420.6,312.2L1422.0,314.4L1423.4,314.8L1424.7,316.5L1426.1,318.0L1427.5,318.8L1429.0,320.7L1430.6,325.7L1432.1,329.5L1433.3,328.0L1434.5,324.1L1435.7,323.0L1437.0,320.6L1438.2,318.1L1439.4,319.5L1440.6,320.7L1441.9,320.5L1443.1,322.3L1444.3,323.8L1445.6,324.1L1446.9,322.8L1448.1,323.6L1449.4,322.2L1450.7,320.7L1452.0,319.4L1453.5,320.2L1455.0,324.8L1456.5,329.6L1457.8,326.8L1459.0,328.5L1460.2,328.0L1461.5,327.1L1462.7,325.5L1463.9,325.3L1465.2,323.9L1466.4,324.1L1467.6,324.0L1468.9,323.5L1470.2,321.3L1471.5,322.8L1472.7,320.9L1474.0,321.2L1475.3,321.1L1476.6,319.7L1477.8,322.1L1479.1,319.4L1480.4,318.3L1481.7,316.5L1482.9,316.0L1484.2,313.3L1485.5,314.2L1486.8,311.7L1488.0,309.5L1489.3,309.2L1490.6,308.2L1491.8,304.9L1493.1,302.9L1494.4,300.4L1495.7,300.3L1496.9,301.7L1498.2,301.9L1499.5,299.5L1500.8,300.2L1502.0,301.6L1503.3,299.6L1504.6,299.0L1505.9,302.2L1507.1,307.5L1508.4,304.1L1509.7,304.5L1511.0,304.7L1512.2,303.5L1513.5,303.6L1514.8,304.3L1516.1,303.5L1517.3,299.5L1518.6,296.1L1519.9,295.1L1521.1,292.0L1522.4,291.5L1523.7,289.4L1525.0,290.7L1526.2,290.3L1527.5,289.5L1528.8,286.2L1530.1,289.9L1531.3,288.7L1532.6,285.7L1533.9,287.1L1535.2,286.0L1535.8,296.4L1537.7,278.2L1539.0,275.8L1540.3,272.3L1541.5,268.5L1542.8,266.0L1544.1,262.9L1545.4,262.1L1546.6,260.0L1547.9,265.7L1549.2,272.5L1550.4,275.5L1551.7,274.4L1553.0,276.9L1554.3,270.1L1555.5,266.4L1556.8,261.5L1558.1,267.6L1559.4,274.4L1560.6,279.9L1561.9,278.1L1563.2,277.9L1564.5,276.3L1565.7,276.4L1567.0,269.8L1568.3,266.1L1569.6,266.7L1570.8,266.8L1572.1,266.1L1573.4,266.0L1574.6,266.4L1575.9,268.2L1577.2,267.1L1578.5,264.7L1579.7,264.3L1581.0,259.7L1582.3,259.4L1583.6,258.8L1584.8,261.9L1586.1,260.8L1587.4,264.2L1588.7,265.2L1589.9,269.1L1591.2,271.3L1592.5,271.5L1593.8,273.7L1595.0,269.7L1596.3,268.7L1597.6,267.0L1598.9,269.2L1600.1,268.6L1601.4,266.9L1602.7,270.6L1603.9,267.8L1605.2,266.5L1606.5,265.3L1607.8,266.5L1609.0,263.9L1610.3,263.5L1611.6,261.1L1612.9,262.2L1614.2,267.2L1615.5,271.2L1616.8,273.5L1618.1,270.3L1619.4,273.8L1620.6,273.1L1621.9,269.7L1623.2,267.6L1624.5,266.4L1625.7,266.9L1627.0,264.9L1628.3,264.8L1629.6,268.1L1630.8,270.4L1632.1,271.4L1633.4,269.6L1634.7,266.9L1635.9,266.2L1637.2,265.7L1638.5,263.3L1639.8,262.3L1641.3,255.6L1642.8,246.4L1644.2,247.1L1645.5,244.5L1646.8,242.8L1648.2,245.0L1649.5,241.1L1650.8,241.1L1652.2,242.0L1653.5,241.1L1654.8,238.6L1656.1,236.0L1657.3,236.0L1658.6,235.0L1659.9,232.9L1661.2,230.0L1662.4,226.1L1663.7,224.8L1665.0,222.4L1666.3,220.9L1667.5,217.1L1668.8,215.5L1670.3,208.6L1671.9,202.6L1673.4,200.9L1674.9,192.5L1676.5,184.1L1678.0,195.4L1679.5,205.0L1681.0,210.2L1682.6,213.8L1684.1,219.9L1685.4,218.8L1686.6,218.5L1687.9,218.0L1689.2,217.9L1690.5,214.7L1691.7,215.4L1693.3,198.6L1694.5,199.9L1695.7,203.1L1696.9,206.7L1698.2,209.5L1699.4,214.0L1700.7,210.1L1701.9,208.1L1703.2,208.5L1704.5,204.3L1705.8,201.4L1707.0,199.7L1708.3,199.2L1709.5,199.6L1710.7,199.7L1711.9,198.4L1713.1,197.3L1714.4,196.1L1715.7,192.7L1717.0,190.5L1718.2,189.7L1719.5,187.4L1720.8,184.0L1722.8,181.4L1725.1,169.4L1725.8,182.6L1727.1,184.9L1728.4,186.0L1729.7,185.8L1730.9,185.8L1732.2,184.7L1733.5,185.2L1734.7,179.9L1736.0,174.5L1737.3,168.5L1739.0,165.8L1740.7,165.4L1742.2,156.9L1743.7,146.0L1745.3,137.4L1746.5,125.6L1747.8,114.2L1749.1,99.5L1750.4,118.8L1751.6,138.6L1752.9,158.6L1754.4,148.6L1756.0,140.9L1757.5,129.1L1758.7,135.4L1759.9,137.1L1761.2,140.0L1762.4,141.9L1763.6,145.4L1765.1,132.1L1766.7,119.6L1768.0,115.6L1769.3,111.8L1770.7,107.7L1772.0,102.9" fill="none" stroke="#a6a6a6" stroke-width="7" stroke-linejoin="round" stroke-linecap="round"/><path d="M148.8,408.0L150.2,408.5L151.5,407.4L152.8,406.7L154.1,405.4L155.5,405.6L156.8,407.1L158.1,406.5L159.4,406.8L160.8,405.6L162.0,405.3L163.3,404.8L164.5,402.1L165.8,404.3L167.0,404.5L168.2,404.4L169.5,401.4L170.7,400.1L172.0,400.7L173.2,401.3L174.5,402.3L175.7,402.1L177.0,402.7L178.2,401.2L179.5,401.8L180.7,402.4L182.0,401.5L183.2,404.4L184.4,404.1L185.7,404.9L186.9,403.1L188.2,402.4L189.4,402.9L190.7,403.5L191.9,404.9L193.2,405.6L194.4,405.5L195.7,405.3L196.9,406.4L198.2,409.5L198.7,416.0L200.1,415.7L201.5,415.2L203.0,411.8L204.4,412.0L205.6,413.8L206.8,410.1L208.0,410.8L209.2,411.3L210.4,410.4L211.7,411.7L212.9,411.3L214.1,409.2L215.3,411.3L216.5,411.8L217.7,412.2L218.9,412.8L220.2,411.7L221.4,411.0L222.7,408.9L223.9,410.7L225.2,409.7L226.4,409.6L227.6,408.5L228.9,408.5L230.1,409.1L231.4,411.6L232.6,406.7L233.9,404.8L235.1,405.4L236.4,406.3L237.6,404.5L238.9,401.4L240.3,399.8L241.6,403.1L243.0,403.1L244.3,402.7L245.6,405.5L247.0,406.9L248.3,405.7L249.6,405.2L250.9,405.0L252.1,406.3L253.4,405.2L254.7,404.5L256.0,404.1L257.3,401.0L258.6,403.9L259.9,404.6L261.1,404.3L262.4,401.1L263.6,401.8L264.9,404.1L266.2,401.5L267.4,402.8L268.7,404.9L270.0,402.8L271.2,405.9L272.5,405.7L273.7,404.8L275.0,405.2L276.2,405.7L277.4,405.2L278.7,406.3L279.9,404.3L281.1,403.9L282.3,405.7L283.5,404.9L284.8,403.5L286.0,405.3L287.2,406.6L288.4,404.6L289.7,402.6L290.9,403.5L292.1,403.8L293.3,403.7L294.5,405.9L295.8,403.4L297.3,403.0L298.9,397.8L300.1,397.4L301.3,399.0L302.5,400.1L303.7,400.0L304.9,399.2L306.1,398.5L307.4,398.2L308.6,398.5L309.8,397.5L311.0,397.7L312.2,398.0L313.4,397.2L314.7,398.1L316.0,398.2L317.3,400.1L318.6,398.7L319.9,397.2L321.2,396.8L322.5,397.2L323.8,398.6L325.4,400.3L326.9,403.6L328.2,405.5L329.5,400.3L330.8,400.2L332.1,401.7L333.5,402.4L334.8,402.2L336.1,401.1L337.4,402.0L338.7,401.7L340.0,400.4L341.3,403.7L342.5,402.1L343.8,400.3L345.1,400.2L346.4,399.9L347.6,399.9L348.9,396.4L350.2,398.0L351.5,400.4L352.7,398.3L354.0,398.9L355.3,400.4L356.6,400.1L357.8,400.3L359.1,395.7L360.4,395.4L361.7,394.8L362.9,395.3L364.2,395.6L365.5,390.3L366.8,392.9L368.0,390.0L369.3,391.2L370.6,388.3L371.9,388.4L373.2,389.0L374.5,386.5L375.8,385.3L377.1,384.8L378.4,382.9L379.8,381.1L381.0,382.3L382.3,381.5L383.6,379.0L384.9,381.6L386.1,377.0L387.4,377.5L388.7,376.8L390.1,377.4L391.4,378.5L392.8,378.6L394.1,379.4L395.4,377.1L396.8,376.6L398.1,379.4L399.6,369.0L400.8,365.9L402.0,362.6L403.2,363.3L404.4,361.2L405.6,359.7L406.8,354.3L408.0,352.0L409.3,348.0L410.5,347.4L411.7,346.6L412.9,335.1L414.2,328.4L415.5,324.7L416.8,319.3L418.0,324.1L419.3,335.2L420.6,328.7L421.8,322.0L423.1,332.5L424.4,342.4L425.7,341.4L426.9,336.2L428.2,335.5L429.5,339.1L430.8,342.0L432.0,342.5L433.3,333.5L434.6,327.6L436.4,327.1L438.2,326.9L438.4,306.8L439.7,306.5L441.0,304.6L442.2,297.0L443.5,293.0L444.8,293.4L446.1,277.3L447.3,277.9L448.6,280.0L449.9,282.9L451.8,304.1L453.3,303.8L454.8,300.8L456.2,300.1L457.5,299.7L458.8,298.9L459.4,283.4L461.3,273.0L462.6,268.9L463.9,267.9L465.2,265.9L466.4,275.8L467.7,280.4L469.0,284.4L470.3,287.4L471.5,290.7L472.8,279.8L474.1,270.5L475.4,272.2L476.6,270.1L477.9,269.6L479.2,269.6L481.1,278.4L482.7,272.1L484.3,267.9L486.2,257.4L487.8,255.9L489.4,257.6L490.6,277.7L492.5,292.2L494.1,282.4L495.7,274.2L497.0,273.5L498.3,271.5L499.6,270.2L500.8,270.8L502.1,273.0L503.4,272.9L504.6,273.2L505.9,274.1L506.2,292.2L508.5,293.7L508.7,309.3L510.4,313.6L510.6,327.2L512.0,326.7L513.4,323.3L514.8,318.5L516.1,321.6L517.4,321.6L518.7,319.2L519.9,320.3L521.2,322.3L522.5,327.5L523.8,334.5L525.0,340.5L526.3,334.2L527.6,327.4L528.9,322.2L530.1,322.4L531.4,322.6L532.7,322.3L533.9,328.2L535.2,346.2L536.5,341.4L537.8,337.5L539.0,337.1L540.3,330.2L541.6,332.5L542.9,336.3L544.1,333.8L545.4,335.5L546.7,338.2L548.0,337.0L549.2,338.0L550.5,339.3L551.8,337.9L553.1,338.9L554.3,340.8L555.6,343.0L556.9,343.5L558.2,327.7L559.4,323.9L560.7,321.8L562.0,321.0L563.2,318.0L564.5,314.1L565.8,318.1L567.1,326.9L568.3,307.4L569.6,305.3L570.9,299.6L572.2,300.9L573.4,300.3L574.7,305.1L576.0,307.1L577.3,309.1L578.5,296.8L579.8,294.4L581.1,297.8L582.4,298.5L583.6,297.8L584.9,297.0L586.2,295.4L587.5,288.8L588.7,286.5L590.0,285.7L592.2,307.8L593.5,304.9L594.8,301.7L596.1,303.2L597.3,300.8L598.6,304.3L599.9,309.4L601.1,316.8L602.4,320.9L603.7,321.7L605.0,320.3L606.2,317.4L607.5,312.3L608.8,303.6L610.1,294.2L611.3,292.2L612.6,290.2L613.2,280.1L614.8,276.6L616.4,273.7L617.7,262.4L619.0,259.0L620.3,254.7L621.5,250.1L622.8,257.0L624.1,262.2L625.4,265.9L626.6,270.8L627.9,267.3L629.2,263.2L630.4,259.3L631.7,260.9L633.0,262.8L634.3,264.2L635.5,243.5L636.8,247.1L638.1,250.4L639.4,252.2L640.6,253.4L641.9,256.0L643.2,272.2L644.5,269.8L645.7,271.0L647.0,269.8L648.3,271.1L649.6,272.0L650.8,271.9L651.5,282.0L653.1,282.0L654.6,276.9L655.3,289.2L656.6,290.7L657.8,293.7L658.5,303.2L659.7,303.5L661.0,305.6L662.3,305.7L663.6,305.1L664.8,306.0L666.1,304.1L667.4,300.2L668.7,296.6L669.9,290.4L671.2,294.0L672.5,298.6L673.8,301.1L675.0,303.9L676.3,305.0L677.6,306.7L678.9,315.5L680.1,317.7L681.4,316.2L682.7,313.1L683.9,311.8L685.2,315.9L686.5,314.1L687.8,315.7L689.0,317.0L690.0,330.3L691.3,328.2L692.5,329.0L693.8,329.4L695.1,330.4L696.4,330.2L697.6,329.0L698.9,320.8L700.2,311.7L701.5,310.8L702.7,310.0L704.0,309.1L705.3,309.7L706.6,307.4L707.8,306.8L709.1,314.0L710.4,318.7L711.7,325.9L712.9,319.6L714.2,316.3L715.5,313.8L716.8,310.1L718.0,314.2L719.3,318.4L720.6,321.4L721.8,324.5L723.1,323.6L724.4,323.6L725.7,320.8L726.9,320.4L728.2,316.7L729.5,317.8L730.8,317.4L732.0,312.6L733.3,312.3L734.6,309.4L735.9,302.5L737.1,297.3L738.4,298.7L739.7,300.2L741.0,300.3L742.2,302.6L743.5,304.2L744.8,311.4L746.1,318.1L747.3,319.3L748.6,319.3L749.9,316.1L751.1,316.0L752.4,315.2L753.7,315.7L755.0,317.7L756.2,319.0L757.5,320.5L758.8,318.9L760.1,319.0L761.3,321.0L762.6,321.7L763.9,322.2L765.2,323.0L766.4,332.4L766.6,346.8L767.8,347.9L769.1,348.4L770.3,348.5L771.6,349.8L772.8,347.6L774.1,348.8L775.4,350.5L776.6,349.1L777.9,350.8L779.2,351.3L780.4,347.5L781.7,346.2L783.0,344.4L784.3,343.4L785.5,344.4L786.8,344.1L788.1,343.2L789.4,344.0L790.6,344.7L791.9,352.2L792.0,367.3L793.3,367.6L794.5,368.0L795.7,370.5L797.0,370.5L798.3,370.2L799.6,371.4L800.8,371.5L802.1,372.4L803.4,373.4L804.6,372.7L805.9,375.6L807.2,373.1L808.5,373.9L809.7,372.7L811.0,373.4L812.3,368.2L813.6,367.8L814.8,368.3L816.1,368.3L817.4,369.9L818.7,368.7L819.9,369.9L821.2,369.9L822.5,370.5L823.8,370.5L825.0,368.4L826.3,367.9L827.6,365.0L828.9,366.2L830.1,363.2L831.4,364.1L832.7,366.8L833.9,364.8L835.2,364.3L836.5,365.7L837.8,364.7L839.0,363.2L840.3,366.7L841.6,369.9L842.9,372.9L844.1,371.6L845.4,374.6L846.7,375.9L848.0,374.5L849.2,374.6L850.5,374.0L851.8,375.0L853.1,371.9L854.3,372.0L855.6,369.8L856.9,368.1L858.2,371.0L859.4,373.7L860.7,373.7L862.0,373.6L863.2,375.1L864.5,374.5L865.8,374.8L867.1,376.4L868.3,376.5L869.6,374.4L870.9,377.3L872.2,375.3L873.4,375.7L874.7,373.9L876.0,374.0L877.3,371.7L878.5,375.5L879.8,376.1L881.1,373.0L882.4,371.4L883.6,370.6L884.9,373.9L886.2,372.9L887.5,373.0L888.7,372.6L890.0,372.7L891.3,371.2L892.6,372.0L893.8,370.2L895.1,371.2L896.4,371.9L897.7,372.2L899.2,378.7L900.8,384.9L902.1,385.7L903.4,385.1L904.7,387.5L906.0,387.2L907.3,385.8L908.6,384.8L909.9,384.1L911.2,383.4L912.5,383.8L913.7,384.5L915.0,384.9L916.3,385.0L917.6,386.8L918.9,383.6L920.2,383.3L921.5,386.6L922.8,381.6L924.1,381.4L925.4,382.0L926.7,382.1L928.0,382.7L929.3,382.1L930.5,382.8L931.8,382.7L933.0,383.7L934.3,380.7L935.6,381.1L936.8,382.4L938.1,381.7L939.3,381.5L940.6,383.7L941.9,382.9L943.1,384.4L944.4,385.2L945.9,378.6L947.5,372.5L948.8,370.4L950.1,367.2L951.4,367.0L952.7,366.7L954.1,365.4L955.5,365.3L956.8,366.2L958.2,364.1L959.6,365.2L961.0,366.9L962.2,365.5L963.4,366.6L964.6,367.3L965.8,370.4L967.1,370.6L968.3,372.1L969.6,368.1L970.9,366.2L972.2,364.2L973.5,359.9L974.8,363.6L976.1,364.5L977.4,361.6L978.7,364.1L979.9,364.1L981.2,365.1L982.5,365.6L983.8,363.6L985.2,367.5L986.6,373.2L988.0,374.5L990.1,360.8L991.5,357.2L992.8,354.3L994.2,353.5L995.5,355.7L996.7,354.6L997.9,353.8L999.1,355.9L1000.4,352.9L1001.6,351.5L1002.8,352.3L1004.0,352.5L1005.3,350.3L1006.5,349.2L1007.7,350.5L1009.0,350.0L1010.3,347.1L1011.6,346.8L1012.9,345.6L1014.3,350.0L1015.7,352.8L1017.1,355.8L1018.4,354.7L1019.7,355.6L1021.0,355.8L1022.3,353.1L1023.6,353.3L1024.9,350.7L1026.2,350.4L1027.5,350.7L1028.7,353.3L1029.9,352.5L1031.2,353.5L1032.4,355.0L1033.7,354.1L1035.0,355.1L1036.3,354.3L1037.6,355.3L1038.9,353.5L1040.2,351.6L1041.5,353.4L1042.8,354.1L1044.1,353.2L1045.3,355.5L1046.6,355.3L1047.8,355.3L1049.1,357.1L1050.3,355.6L1051.5,356.7L1052.8,358.4L1054.0,360.6L1055.3,360.5L1056.5,361.6L1057.9,356.0L1059.3,352.3L1060.7,349.9L1062.0,347.3L1063.2,350.2L1064.5,347.2L1065.8,346.8L1067.0,346.8L1068.3,347.7L1069.6,344.9L1070.8,342.7L1072.1,345.3L1073.4,346.2L1074.7,346.0L1076.1,348.4L1077.4,345.8L1078.7,344.7L1080.0,345.0L1081.2,345.5L1082.4,348.1L1083.6,345.8L1084.8,346.8L1086.0,343.9L1087.2,349.0L1088.5,348.9L1089.8,350.6L1091.1,352.8L1092.3,350.7L1093.6,349.7L1094.9,349.0L1096.2,348.3L1097.4,348.4L1098.7,350.0L1100.0,349.8L1101.2,349.8L1102.5,349.5L1104.1,359.9L1105.3,359.1L1106.6,357.5L1107.9,357.4L1109.1,355.9L1110.4,353.5L1111.7,355.6L1113.0,356.2L1114.3,355.1L1115.6,357.9L1116.9,358.5L1118.3,356.8L1119.6,360.9L1120.9,361.3L1122.1,361.3L1123.4,360.1L1124.7,358.9L1126.0,356.3L1127.2,358.4L1128.5,357.5L1129.8,356.5L1131.1,356.6L1132.3,356.0L1133.6,356.2L1134.9,354.6L1136.2,354.1L1137.5,351.6L1138.8,353.1L1140.1,355.2L1141.4,357.0L1142.7,355.5L1144.0,355.4L1145.3,357.8L1146.9,354.5L1148.4,353.7L1149.9,353.7L1150.2,339.9L1151.5,340.1L1152.8,337.2L1154.1,336.8L1155.4,335.8L1156.7,335.2L1158.0,335.9L1159.3,337.2L1160.6,333.2L1161.9,332.1L1163.1,332.9L1164.3,331.1L1165.5,332.4L1166.7,332.9L1168.0,331.8L1169.2,332.4L1170.4,329.8L1171.6,331.8L1172.9,329.4L1174.1,329.0L1175.4,328.5L1176.7,328.0L1178.0,329.0L1179.2,327.8L1180.5,326.3L1182.0,312.0L1183.3,313.8L1184.5,312.5L1185.7,312.6L1186.9,313.9L1188.1,313.2L1189.4,311.0L1190.6,315.3L1191.8,316.5L1193.0,311.5L1194.3,312.5L1195.5,312.2L1196.7,312.2L1197.9,311.1L1199.2,308.8L1200.4,306.3L1201.6,306.2L1202.8,306.7L1204.1,303.4L1205.3,301.6L1206.5,301.6L1208.0,303.3L1209.6,308.6L1210.8,310.9L1212.1,314.2L1213.4,315.2L1214.7,316.6L1215.9,319.1L1217.2,321.7L1218.7,318.0L1220.3,315.7L1221.8,313.8L1223.1,311.6L1224.3,309.4L1225.6,303.4L1226.9,299.7L1228.2,293.6L1229.5,295.1L1230.7,290.2L1232.2,289.6L1233.6,289.6L1235.0,286.6L1236.5,287.3L1238.0,288.8L1239.5,287.9L1241.1,291.4L1242.2,280.6L1243.3,258.9L1245.6,244.0L1247.2,247.5L1248.7,251.3L1250.2,254.8L1251.4,235.3L1252.8,232.0L1254.2,231.2L1255.6,240.1L1256.9,251.5L1258.3,260.1L1259.8,252.8L1261.3,247.7L1262.8,239.3L1264.6,237.6L1266.3,235.4L1268.6,251.3L1270.3,243.4L1272.0,235.6L1273.7,238.3L1275.5,241.2L1277.2,252.0L1278.9,265.0L1280.6,255.9L1282.3,247.6L1284.1,252.0L1285.8,254.4L1287.1,259.5L1288.5,264.6L1289.8,270.6L1291.2,264.3L1292.7,257.0L1294.1,256.7L1295.5,259.8L1297.0,261.7L1298.4,262.0L1299.5,250.0L1301.3,241.8L1303.0,234.0L1304.5,238.0L1306.0,241.9L1307.6,242.3L1309.3,245.3L1311.0,246.1L1312.7,244.0L1314.4,235.9L1315.9,238.7L1317.3,238.2L1318.8,240.9L1320.2,244.6L1322.5,247.2L1324.2,248.7L1325.9,250.7L1327.1,265.4L1328.5,262.9L1329.9,264.5L1331.4,261.3L1332.8,256.8L1334.5,268.2L1336.2,274.9L1338.0,276.6L1339.7,274.2L1340.8,252.9L1342.4,255.3L1343.9,255.1L1345.4,253.6L1346.6,243.2L1347.9,246.5L1349.3,247.1L1350.7,245.3L1352.1,246.9L1353.4,246.9L1355.2,250.6L1356.9,250.3L1358.0,281.4L1360.3,262.7L1361.8,265.8L1363.2,268.7L1364.6,267.1L1366.1,271.6L1367.5,268.4L1368.9,267.2L1370.4,259.4L1371.8,254.7L1373.5,257.9L1375.2,262.0L1377.5,272.2L1378.9,277.2L1380.2,278.7L1381.5,282.8L1382.9,276.7L1384.2,271.9L1385.6,265.7L1387.1,265.7L1388.6,270.2L1390.1,271.8L1391.3,258.1L1392.7,256.7L1394.2,255.9L1395.6,251.7L1397.0,250.1L1398.7,258.6L1400.5,266.3L1401.9,265.3L1403.3,262.7L1404.8,266.1L1406.2,266.1L1408.5,249.6L1410.2,246.3L1411.9,243.9L1413.4,244.3L1414.8,244.5L1416.2,245.6L1417.7,247.0L1418.9,243.1L1420.1,238.5L1421.3,236.7L1422.5,231.0L1423.8,229.0L1425.0,223.6L1426.2,220.9L1427.6,190.5L1429.0,186.8L1430.4,182.4L1431.8,189.9L1433.2,187.4L1434.6,182.3L1436.0,180.1L1436.7,160.3L1438.5,169.0L1440.2,178.7L1441.6,173.5L1443.0,167.6L1444.4,167.6L1445.8,167.0L1447.2,165.5L1448.6,165.1L1450.0,164.5L1451.4,152.4L1452.8,140.6L1454.6,138.6L1456.3,139.8L1457.0,171.4L1458.4,166.7L1459.8,163.8L1461.3,161.1L1462.7,169.0L1464.1,180.1L1465.3,168.4L1466.5,163.0L1467.7,154.7L1469.0,151.1L1470.4,167.7L1471.8,175.5L1473.0,175.9L1474.2,175.8L1475.4,174.1L1476.7,173.9L1476.9,143.9L1478.3,144.9L1479.6,143.4L1480.9,141.2L1482.3,144.5L1483.7,150.0L1485.1,153.2L1486.5,149.6L1487.9,144.6L1489.3,146.3L1490.7,152.5L1491.4,167.5L1492.6,168.9L1493.8,167.5L1495.1,168.4L1496.3,169.7L1497.7,167.7L1499.1,167.3L1500.5,167.0L1501.9,162.0L1503.3,177.7L1504.7,191.0L1506.1,203.4L1507.5,183.6L1508.9,183.9L1510.3,182.4L1511.7,182.1L1513.1,200.0L1514.5,214.4L1515.9,208.9L1517.3,205.6L1518.7,206.6L1520.1,203.7L1521.5,196.9L1522.9,192.0L1524.3,192.9L1525.7,191.9L1527.1,194.2L1528.5,205.9L1529.9,201.9L1531.3,202.1L1532.7,198.2L1534.5,210.6L1536.2,222.4L1538.3,200.9L1539.7,201.6L1541.1,200.5L1542.5,198.6L1543.9,197.5L1545.3,195.0L1546.7,192.7L1548.1,190.7L1548.4,174.5L1549.8,173.2L1551.1,170.8L1552.4,167.5L1553.8,165.0L1555.2,164.9L1556.6,168.7L1558.0,172.0L1558.2,150.2L1559.6,148.8L1560.9,147.8L1562.2,148.5L1563.6,147.1L1565.0,141.2L1566.4,134.7L1567.8,127.7L1569.2,131.3L1570.6,131.6L1572.0,133.5L1573.4,146.8L1574.8,148.4L1576.2,153.3L1577.6,156.5L1579.0,142.7L1580.4,130.9L1581.8,136.6L1583.2,141.3L1584.6,144.2L1586.0,143.6L1587.4,145.8L1588.8,149.6L1590.2,145.8L1591.6,139.0L1593.0,138.4L1594.4,139.6L1595.8,140.3L1597.2,140.9L1598.6,132.6L1600.1,122.5L1601.6,114.3L1603.1,108.8L1604.3,108.3L1605.6,106.8L1606.9,104.9L1608.2,105.4L1609.4,107.0L1610.7,106.1L1612.0,109.2L1613.3,110.5L1614.5,113.1L1615.8,114.7L1617.1,117.8L1618.3,121.7L1619.9,115.5L1621.4,113.1L1622.9,110.7L1624.5,104.3L1626.0,98.7L1627.5,94.6L1629.1,105.1L1630.6,112.4L1632.1,112.7L1633.6,111.0L1635.2,115.6L1636.7,129.7L1638.2,130.7L1639.8,130.6L1641.3,133.0L1642.8,129.3L1644.3,127.9L1645.9,126.3L1647.4,120.7L1648.9,115.6L1650.5,112.7L1652.0,113.6L1653.5,110.3L1655.0,115.2L1656.6,123.7L1658.1,130.6L1659.4,123.1L1660.7,116.6L1661.9,110.6L1663.2,102.4L1664.5,96.6L1665.7,92.3L1667.0,94.2L1668.3,95.1L1669.6,97.1L1670.3,118.2L1671.9,125.3L1673.4,133.4L1674.9,139.8L1676.5,130.0L1678.0,125.3L1679.5,118.2L1681.0,121.6L1682.6,122.1L1684.1,129.6L1685.6,139.4L1687.2,143.8L1688.7,150.3L1690.0,150.2L1691.2,149.3L1692.5,150.1L1693.8,153.7L1694.5,171.8L1695.8,172.6L1697.1,175.1L1698.3,180.3L1699.1,196.3L1700.4,191.7L1701.6,187.8L1702.9,184.7L1704.3,184.3L1705.6,181.9L1706.9,178.7L1708.3,176.6L1709.5,179.0L1710.8,179.7L1712.1,178.1L1712.5,195.1L1714.2,188.1L1715.9,180.9L1717.4,188.4L1719.0,195.4L1720.2,193.5L1721.5,189.8L1722.8,190.4L1724.0,191.0L1725.2,189.1L1726.4,192.0L1727.7,192.6L1728.9,189.3L1730.4,176.2L1731.6,174.9L1732.8,175.3L1734.0,170.4L1735.2,170.2L1736.4,169.2L1737.6,167.8L1738.8,166.4L1741.1,174.4L1743.4,186.0L1744.7,185.3L1746.1,184.9L1747.4,185.8L1748.8,186.1L1750.3,198.9L1751.6,216.9L1752.9,234.4L1754.4,257.9L1756.0,247.9L1757.5,239.7L1758.7,241.0L1759.9,241.2L1761.2,241.3L1762.4,244.4L1763.6,243.3L1764.8,246.7L1766.1,250.1L1767.3,251.0L1768.5,254.4L1769.7,254.6L1772.0,246.5" fill="none" stroke="#0a68ff" stroke-width="7" stroke-linejoin="round" stroke-linecap="round"/><g font-family="Liberation Sans, sans-serif" font-size="26.5" fill="#5f5f5f" stroke="#5f5f5f" stroke-width="0.3"><line x1="665" y1="627.4" x2="720" y2="627.4" stroke="#22e09b" stroke-width="6.5" stroke-linecap="round"/><text x="728" y="635.9" textLength="113" lengthAdjust="spacingAndGlyphs">WTI Price</text><line x1="849.5" y1="627.4" x2="903.5" y2="627.4" stroke="#a6a6a6" stroke-width="6.5" stroke-linecap="round"/><text x="911.5" y="635.9" textLength="117" lengthAdjust="spacingAndGlyphs">XAU Price</text><line x1="1039" y1="627.4" x2="1094" y2="627.4" stroke="#0a68ff" stroke-width="6.5" stroke-linecap="round"/><text x="1101" y="635.9" textLength="156" lengthAdjust="spacingAndGlyphs">BTC Price (R)</text></g><rect x="0" y="668" width="1926" height="2" fill="#e4e5e8"/><text x="15" y="734.8" font-family="Liberation Sans, sans-serif" font-size="21.5" fill="#111" textLength="304" lengthAdjust="spacingAndGlyphs">Gate Research, Data from: Gate</text><path d="M1631.1,710.9A14.9,14.9 0 1 0 1646.0,725.8L1639.3,725.8A8.2,8.2 0 1 1 1631.1,717.5999999999999Z" fill="#0068ff"/><rect x="1631.1" y="717.5999999999999" width="8.2" height="8.2" fill="#20e3a0"/><path d="M1672.24,721.16A10.75,10.75 0 1 0 1673.25,725.70" stroke="#15161b" stroke-width="5" fill="none"/><rect x="1662.3" y="724.2" width="13.5" height="4.8" fill="#15161b"/><circle cx="1689.55" cy="726.45" r="8.75" stroke="#15161b" stroke-width="5" fill="none"/><rect x="1696.6" y="715.2" width="5" height="22.5" fill="#15161b"/><path d="M1707.4,711.9H1712.5V733.2H1718.3V737.7H1707.4Z" fill="#15161b"/><rect x="1704.9" y="715.9" width="13.4" height="4.7" fill="#15161b"/><path d="M1739.48,730.71A8.75,8.75 0 1 1 1740.50,726.10" stroke="#15161b" stroke-width="5" fill="none"/><rect x="1723" y="724.2" width="20" height="4.5" fill="#15161b"/><text x="1752.3" y="737.7" font-family="Liberation Sans, sans-serif" font-size="34" fill="#15161b" textLength="151.5" lengthAdjust="spacingAndGlyphs">Research</text></svg>
</body></html>
